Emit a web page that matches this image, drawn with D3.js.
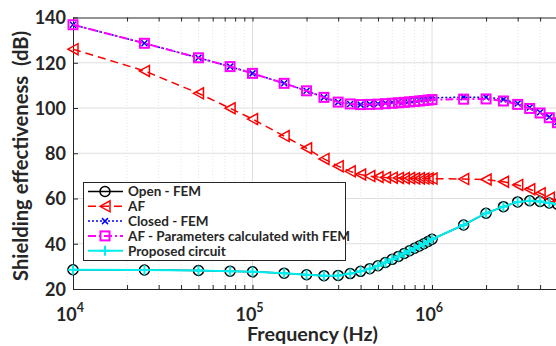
<!DOCTYPE html>
<html>
<head>
<meta charset="utf-8">
<script src="https://cdn.jsdelivr.net/npm/d3@7"></script>
<style>
  html, body { margin: 0; padding: 0; background: #fff; overflow: hidden; }
  svg { display: block; font-family: Lato, "Open Sans", sans-serif; }
</style>
</head>
<body>
<div id="chart"></div>
<script>
// frequency points (Hz)
const freq = [1e4, 2.5e4, 5e4, 7.5e4, 1e5, 1.5e5, 2e5, 2.5e5, 3e5, 3.5e5, 4e5, 4.5e5, 5e5,
  5.5e5, 6e5, 6.5e5, 7e5, 7.5e5, 8e5, 8.5e5, 9e5, 9.5e5, 1e6,
  1.5e6, 2e6, 2.5e6, 3e6, 3.5e6, 4e6, 4.5e6, 5e6];

// shielding effectiveness (dB)
const openFem = [28.5, 28.4, 28.2, 27.9, 27.6, 27.0, 26.3, 25.9, 26.0, 26.8, 27.8, 29.0, 30.3,
  31.7, 33.1, 34.4, 35.7, 36.9, 38.0, 39.0, 40.0, 41.0, 42.0,
  48.3, 53.5, 56.4, 58.5, 59.0, 58.7, 58.0, 57.5];
const af = [126.0, 116.4, 106.5, 99.9, 95.1, 87.6, 82.2, 77.5, 74.3, 72.0, 70.6, 69.9, 69.5,
  69.3, 69.2, 69.1, 69.0, 69.0, 68.9, 68.9, 68.8, 68.8, 68.8,
  68.6, 68.4, 67.4, 66.0, 64.1, 62.3, 60.3, 58.5];
const closedFem = [136.8, 128.6, 122.2, 118.3, 115.3, 110.9, 107.6, 104.7, 102.6, 101.8, 101.5, 101.7, 101.9,
  102.2, 102.5, 102.8, 103.1, 103.4, 103.7, 103.9, 104.1, 104.3, 104.5,
  104.8, 104.8, 103.8, 102.0, 100.2, 98.1, 96.0, 93.8];
const afParams = [136.8, 128.6, 122.2, 118.3, 115.3, 110.9, 107.6, 104.7, 102.6, 101.8, 101.5, 101.6, 101.7,
  101.9, 102.1, 102.3, 102.5, 102.7, 102.9, 103.1, 103.3, 103.5, 103.7,
  103.9, 104.0, 103.1, 101.6, 99.8, 97.8, 95.7, 93.5];
const proposed = [28.5, 28.4, 28.2, 27.9, 27.6, 27.0, 26.3, 25.9, 26.0, 26.8, 27.8, 29.0, 30.3,
  31.7, 33.1, 34.4, 35.7, 36.9, 38.0, 39.0, 40.0, 41.0, 42.0,
  48.3, 53.5, 56.4, 58.5, 59.0, 58.7, 58.0, 57.5];

const yTicks = [20, 40, 60, 80, 100, 120, 140];
const xTicks = [1e4, 1e5, 1e6];
const legendLabels = ['Open - FEM', 'AF', 'Closed - FEM', 'AF - Parameters calculated with FEM', 'Proposed circuit'];

const width = 556, height = 346;
const margin = {top: 17.5, left: 73, bottom: 289};

const svg = d3.select('#chart').append('svg')
  .attr('width', width)
  .attr('height', height);

const x = d3.scaleLog().domain([1e4, 5e6]).range([margin.left, 557.5]);
const y = d3.scaleLinear().domain([20, 140]).range([margin.bottom, margin.top]);

const axisCol = '#262626';

// minor grid (dotted)
const minor = [];
for (let e = 4; e <= 6; e++) {
  for (let m = 2; m <= 9; m++) {
    const v = m * Math.pow(10, e);
    if (v <= 5e6) minor.push(v);
  }
}
svg.append('g').selectAll('line').data(minor).enter().append('line')
  .attr('x1', d => x(d)).attr('x2', d => x(d))
  .attr('y1', y(20)).attr('y2', y(140))
  .attr('stroke', '#e6e6e6').attr('stroke-width', 1)
  .attr('stroke-dasharray', '1,2');

// major grid
svg.append('g').selectAll('line').data(yTicks.slice(1, -1)).enter().append('line')
  .attr('x1', x(1e4)).attr('x2', width)
  .attr('y1', d => y(d)).attr('y2', d => y(d))
  .attr('stroke', '#dfdfdf').attr('stroke-width', 1);
svg.append('g').selectAll('line').data(xTicks.slice(1)).enter().append('line')
  .attr('x1', d => x(d)).attr('x2', d => x(d))
  .attr('y1', y(20)).attr('y2', y(140))
  .attr('stroke', '#dfdfdf').attr('stroke-width', 1);

// axes
const xAxisB = d3.axisBottom(x).tickValues(minor.concat(xTicks)).tickSize(-4).tickFormat('');
const xAxisT = d3.axisTop(x).tickValues(minor.concat(xTicks)).tickSize(-4).tickFormat('');
const yAxisL = d3.axisLeft(y).tickValues(yTicks).tickSize(-5).tickPadding(7);

const gb = svg.append('g').attr('transform', `translate(0,${margin.bottom})`).call(xAxisB);
const gt = svg.append('g').attr('transform', `translate(0,${margin.top})`).call(xAxisT);
const gl = svg.append('g').attr('transform', `translate(${margin.left},0)`).call(yAxisL);
[gb, gt, gl].forEach(g => {
  g.select('.domain').attr('stroke', axisCol).attr('stroke-width', 1);
  g.selectAll('.tick line').attr('stroke', axisCol);
});
gl.select('.domain').attr('d', `M0.5,${margin.top}V${margin.bottom}`);
gl.selectAll('.tick text')
  .attr('fill', axisCol)
  .style('font-family', 'Lato, sans-serif')
  .style('font-size', '18px')
  .style('font-weight', 700)
  .attr('dy', '0.36em');

// x tick labels as 10^n
const xl = svg.append('g').selectAll('text').data(xTicks).enter().append('text')
  .attr('x', d => x(d) - 3)
  .attr('y', 321)
  .attr('text-anchor', 'middle')
  .attr('fill', axisCol)
  .style('font-size', '18px')
  .style('font-weight', 700);
xl.append('tspan').text('10');
xl.append('tspan').attr('dy', -9).style('font-size', '12.5px').text(d => Math.round(Math.log10(d)));

// axis titles
svg.append('text')
  .attr('x', 312.5).attr('y', 341)
  .attr('text-anchor', 'middle')
  .attr('fill', axisCol)
  .attr('textLength', 131).attr('lengthAdjust', 'spacingAndGlyphs')
  .style('font-size', '19px').style('font-weight', 700)
  .text('Frequency (Hz)');
svg.append('text')
  .attr('transform', 'translate(28,156) rotate(-90)')
  .attr('text-anchor', 'middle')
  .attr('fill', axisCol)
  .attr('textLength', 250).attr('lengthAdjust', 'spacingAndGlyphs')
  .style('font-size', '20px').style('font-weight', 700)
  .style('white-space', 'pre')
  .text('Shielding effectiveness  (dB)');

// series
const series = [
  {name: legendLabels[0], values: openFem, color: '#000', width: 1.5, dash: null, marker: 'circle'},
  {name: legendLabels[1], values: af, color: '#ff0000', width: 1.5, dash: '8,5', marker: 'tri'},
  {name: legendLabels[2], values: closedFem, color: '#0000ff', width: 1.5, dash: '2,2', marker: 'x'},
  {name: legendLabels[3], values: afParams, color: '#ff00ff', width: 2, dash: '8,3,2,3', marker: 'square'},
  {name: legendLabels[4], values: proposed, color: '#00eeee', width: 2, dash: null, marker: 'plus'}
];

const line = d3.line().x(d => x(d[0])).y(d => y(d[1]));

function drawMarker(g, type, color) {
  if (type === 'circle') {
    g.append('circle').attr('r', 5).attr('fill', 'none').attr('stroke', color).attr('stroke-width', 1.5);
  } else if (type === 'tri') {
    g.append('path').attr('d', 'M-5,0L5,-5.5L5,5.5Z').attr('fill', 'none').attr('stroke', color).attr('stroke-width', 1.5);
  } else if (type === 'x') {
    g.append('path').attr('d', 'M-3,-3L3,3M-3,3L3,-3').attr('stroke', color).attr('stroke-width', 1.5);
  } else if (type === 'square') {
    g.append('rect').attr('x', -4.5).attr('y', -4.5).attr('width', 9).attr('height', 9)
      .attr('fill', 'none').attr('stroke', color).attr('stroke-width', 2);
  } else if (type === 'plus') {
    g.append('path').attr('d', 'M-5,0H5M0,-5V5').attr('stroke', color).attr('stroke-width', 2);
  }
}

series.forEach(s => {
  const pts = freq.map((f, i) => [f, s.values[i]]);
  const g = svg.append('g');
  g.append('path')
    .datum(pts)
    .attr('d', line)
    .attr('fill', 'none')
    .attr('stroke', s.color)
    .attr('stroke-width', s.width)
    .attr('stroke-dasharray', s.dash);
  g.selectAll('.mk').data(pts).enter().append('g')
    .attr('class', 'mk')
    .attr('transform', d => `translate(${x(d[0])},${y(d[1])})`)
    .each(function () { drawMarker(d3.select(this), s.marker, s.color); });
});

// legend
const lg = svg.append('g');
lg.append('rect')
  .attr('x', 83.5).attr('y', 182.5).attr('width', 262).attr('height', 78)
  .attr('fill', '#fff').attr('stroke', axisCol).attr('stroke-width', 1);
const rows = lg.selectAll('.row').data(series).enter().append('g')
  .attr('class', 'row')
  .attr('transform', (d, i) => `translate(0,${191.5 + i * 14.8})`);
rows.append('line')
  .attr('x1', 88).attr('x2', 123).attr('y1', 0).attr('y2', 0)
  .attr('stroke', d => d.color).attr('stroke-width', d => d.width)
  .attr('stroke-dasharray', d => d.dash);
rows.append('g').attr('transform', 'translate(105,0)')
  .each(function (d) { drawMarker(d3.select(this), d.marker, d.color); });
rows.append('text')
  .attr('x', 128).attr('y', 0).attr('dy', '0.36em')
  .attr('fill', axisCol)
  .style('font-size', '13.5px').style('font-weight', 700)
  .text(d => d.name);
</script>
</body>
</html>
